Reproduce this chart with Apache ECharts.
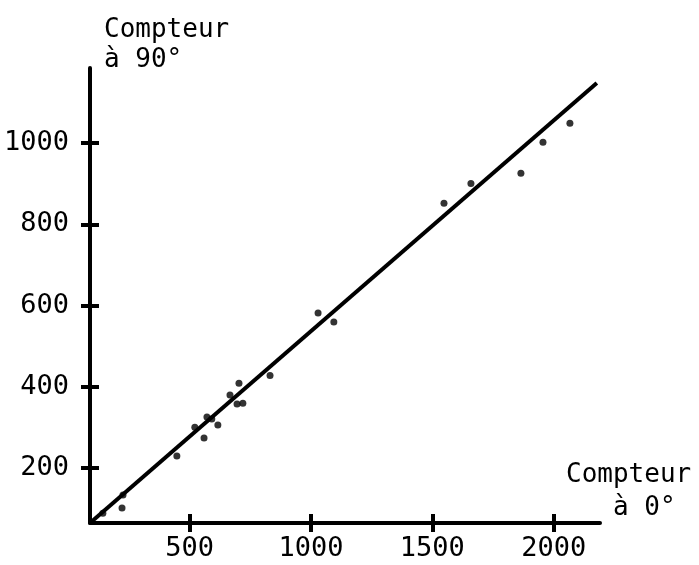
<!DOCTYPE html>
<html>
<head>
<meta charset="utf-8">
<script src="https://cdn.jsdelivr.net/npm/echarts@6/dist/echarts.min.js"></script>
<style>
  html, body { margin: 0; padding: 0; background: #fff; }
  #chart { width: 699px; height: 565px; }
</style>
</head>
<body>
<div id="chart"></div>
<script>
// Data
var compteur0 = [142, 221, 225, 447, 521, 559, 571, 591, 616, 666, 703, 695, 719, 831, 1029, 1094, 1548, 1659, 1865, 1956, 2067];
var compteur90 = [89, 102, 134, 230, 301, 274, 326, 321, 306, 380, 409, 358, 360, 428, 582, 560, 852, 901, 926, 1002, 1049];
var fitX = [89, 2178];
var fitY = [65, 1148];
var xTicks = [500, 1000, 1500, 2000];
var yTicks = [200, 400, 600, 800, 1000];
var xRange = [89, 2191];
var yRange = [65, 1185];

var FONT = 'DejaVu Sans Mono';

var points = compteur0.map(function (x, i) { return [x, compteur90[i]]; });
var fitLine = fitX.map(function (x, i) { return [x, fitY[i]]; });

var chart = echarts.init(document.getElementById('chart'), null, { renderer: 'canvas' });

function plain(v) { return String(Math.round(v)); }

function xAxisDef(inside, show) {
  return {
    type: 'value', position: 'bottom', min: xRange[0], max: xRange[1],
    splitLine: { show: false },
    axisLine: { show: show, onZero: false, lineStyle: { color: '#000', width: 4 } },
    axisTick: { show: true, inside: inside, length: 9, customValues: xTicks, lineStyle: { color: '#000', width: 4 } },
    axisLabel: { show: show, customValues: xTicks, formatter: plain, margin: 12, color: '#000', fontFamily: FONT, fontSize: 27 }
  };
}
function yAxisDef(inside, show) {
  return {
    type: 'value', position: 'left', min: yRange[0], max: yRange[1],
    splitLine: { show: false },
    axisLine: { show: show, onZero: false, lineStyle: { color: '#000', width: 4 } },
    axisTick: { show: true, inside: inside, length: 9, customValues: yTicks, lineStyle: { color: '#000', width: 4 } },
    axisLabel: { show: show, customValues: yTicks, formatter: plain, margin: 21, color: '#000', fontFamily: FONT, fontSize: 27 }
  };
}

chart.setOption({
  animation: false,
  backgroundColor: '#fff',
  grid: { left: 90, right: 99, top: 68, bottom: 42, containLabel: false, outerBoundsMode: 'none' },
  xAxis: [xAxisDef(false, true), xAxisDef(true, false)],
  yAxis: [yAxisDef(false, true), yAxisDef(true, false)],
  series: [
    {
      type: 'line', data: fitLine, xAxisIndex: 0, yAxisIndex: 0,
      symbol: 'none', lineStyle: { color: '#000', width: 4 }
    },
    {
      type: 'scatter', data: points, xAxisIndex: 0, yAxisIndex: 0,
      symbol: 'circle', symbolSize: 7, itemStyle: { color: '#000' }
    }
  ],
  graphic: [
    { type: 'text', left: 104, top: 15, style: { text: 'Compteur\nà 90°', fill: '#000', font: '26px "' + FONT + '"', lineHeight: 30 } },
    { type: 'text', left: 566, top: 459, style: { text: 'Compteur\n   à 0°', fill: '#000', font: '26px "' + FONT + '"', lineHeight: 33 } }
  ]
});
</script>
</body>
</html>
